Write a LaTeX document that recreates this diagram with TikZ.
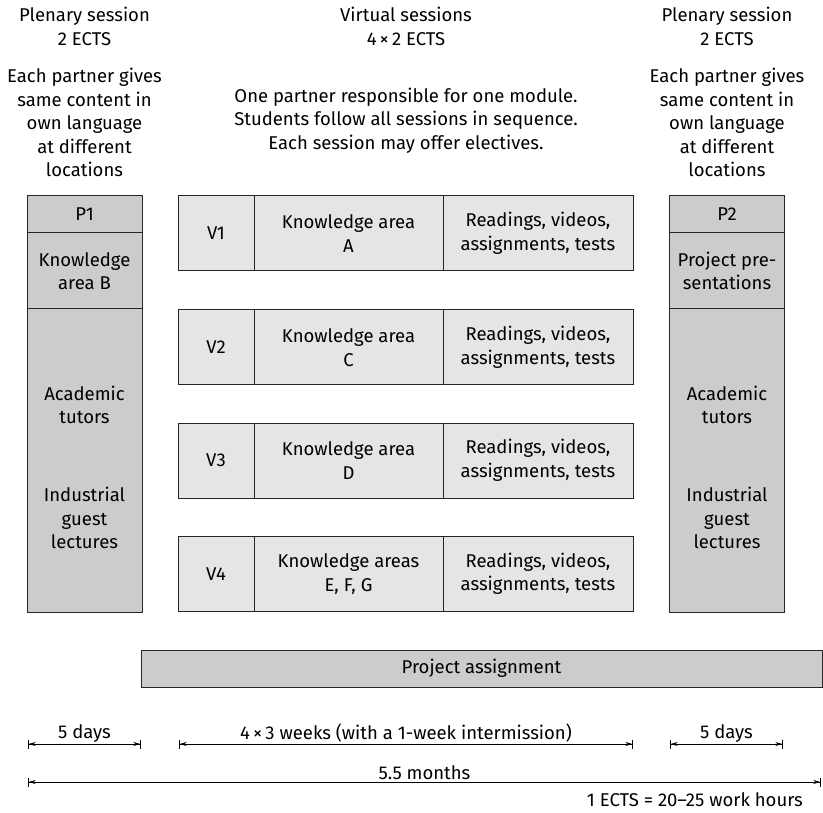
\documentclass[tikz,border=0pt]{standalone}
\usepackage{fontspec}
\setmainfont{Fira Sans}
\usetikzlibrary{arrows.meta,positioning}

\begin{document}
\begin{tikzpicture}[x=1pt,y=-1pt,
		font=\fontsize{18.5}{23.5}\selectfont,
		pcol/.style={rectangle, draw=black!85, fill=black!20, line width=1pt, inner sep=0pt, minimum width=115pt, align=center},
		vcol/.style={rectangle, draw=black!85, fill=black!10, line width=1pt, inner sep=0pt, minimum height=75pt, align=center},
		txt/.style={align=center},
		dim/.style={line width=0.7pt, {Bar[width=9pt]Stealth[length=7pt,width=4pt]}-{Stealth[length=7pt,width=4pt]Bar[width=9pt]}}]
		\useasboundingbox (0,0) rectangle (823,813);

		% headings
		\draw (84.5,26.5) node [txt] (p1head) {Plenary session\\2 ECTS};
		\draw (406,26.5) node [txt] (vhead) {Virtual sessions\\4\,×\,2 ECTS};
		\draw (727,26.5) node [txt] (p2head) {Plenary session\\2 ECTS};
		\draw (84.5,122.5) node [txt] (p1desc) {Each partner gives\\same content in\\own language\\at different\\locations};
		\draw (406,120.5) node [txt] (vdesc) {One partner responsible for one module.\\Students follow all sessions in sequence.\\Each session may offer electives.};
		\draw (727,122.5) node [txt] (p2desc) {Each partner gives\\same content in\\own language\\at different\\locations};

		% plenary columns
		\draw (84.5,214.5) node [pcol, minimum height=37pt] (p1) {P1};
		\draw (84.5,271) node [pcol, minimum height=76pt] (p1ka) {Knowledge\\area B};
		\draw (84.5,460.5) node [pcol, minimum height=303pt] (p1main) {};
		\draw (84.5,405) node [txt] (p1tut) {Academic\\tutors};
		\draw (84.5,518) node [txt] (p1ind) {Industrial\\guest\\lectures};

		\draw (727,214.5) node [pcol, minimum height=37pt] (p2) {P2};
		\draw (727,271) node [pcol, minimum height=76pt] (p2pres) {Project pre-\\sentations};
		\draw (727,460.5) node [pcol, minimum height=303pt] (p2main) {};
		\draw (727,405) node [txt] (p2tut) {Academic\\tutors};
		\draw (727,518) node [txt] (p2ind) {Industrial\\guest\\lectures};

		% virtual sessions
		\draw (216,233.5) node [vcol, minimum width=76pt] (v1) {V1};
		\draw (348.5,233.5) node [vcol, minimum width=189pt] (v1ka) {Knowledge area\\A};
		\draw (538,233.5) node [vcol, minimum width=190pt] (v1rd) {Readings, videos,\\assignments, tests};

		\draw (216,347.5) node [vcol, minimum width=76pt] (v2) {V2};
		\draw (348.5,347.5) node [vcol, minimum width=189pt] (v2ka) {Knowledge area\\C};
		\draw (538,347.5) node [vcol, minimum width=190pt] (v2rd) {Readings, videos,\\assignments, tests};

		\draw (216,460.5) node [vcol, minimum width=76pt] (v3) {V3};
		\draw (348.5,460.5) node [vcol, minimum width=189pt] (v3ka) {Knowledge area\\D};
		\draw (538,460.5) node [vcol, minimum width=190pt] (v3rd) {Readings, videos,\\assignments, tests};

		\draw (216,574) node [vcol, minimum width=76pt] (v4) {V4};
		\draw (348.5,574) node [vcol, minimum width=189pt] (v4ka) {Knowledge areas\\E, F, G};
		\draw (538,574) node [vcol, minimum width=190pt] (v4rd) {Readings, videos,\\assignments, tests};

		% project
		\draw (481.5,668.5) node [pcol, minimum width=681pt, minimum height=37pt] (proj) {Project assignment};

		% time line
		\coordinate (d1l) at (28,744);
		\coordinate (d1r) at (141,744);
		\coordinate (d2l) at (179,744);
		\coordinate (d2r) at (633,744);
		\coordinate (d3l) at (670,744);
		\coordinate (d3r) at (783,744);
		\coordinate (d4l) at (28,782);
		\coordinate (d4r) at (821,782);

		\draw [dim] (d1l) -- node [above, inner sep=1.5pt] {5 days} (d1r);
		\draw [dim] (d2l) -- node [above, inner sep=1.5pt] {4\,×\,3 weeks (with a 1-week intermission)} (d2r);
		\draw [dim] (d3l) -- node [above, inner sep=1.5pt] {5 days} (d3r);
		\draw [dim] (d4l) -- node [above, inner sep=1.5pt] {5.5 months} (d4r);
		\draw (803,800) node [anchor=east, inner sep=0pt] (ects) {1 ECTS = 20--25 work hours};
	\end{tikzpicture}
\end{document}
